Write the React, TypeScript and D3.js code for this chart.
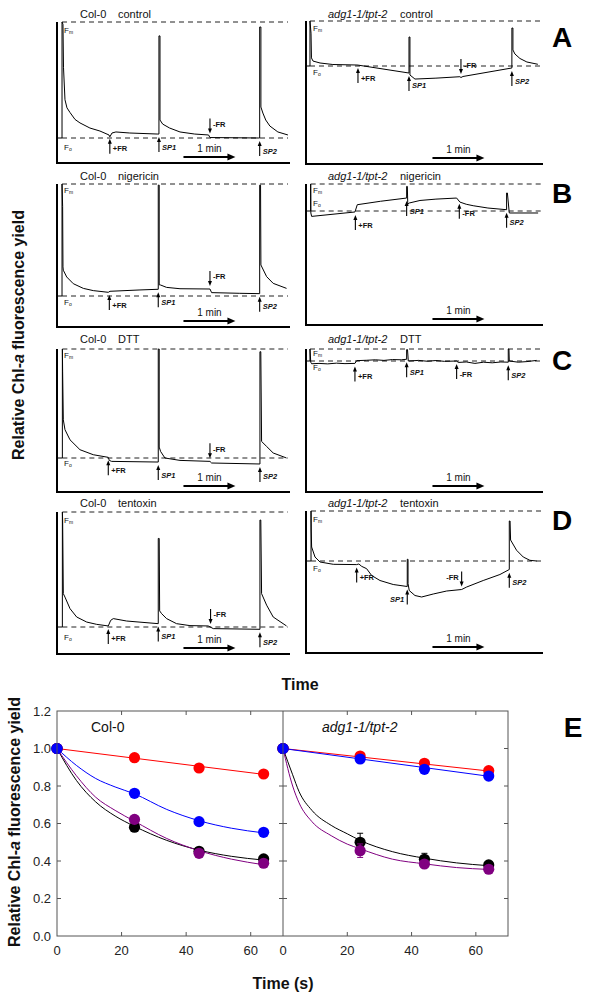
import React from 'react';
import * as d3 from 'd3';

type Pt = [number, number];
type Ev = [number, string, 'up' | 'down', 'left' | 'right'];

// ---------- Fluorescence traces (t in s, value normalised Fo=0, Fm=1) ----------
const traceColControl: Pt[] = [[0,0],[5.8,0],[5.8,1],[6.9,0.98],[7.5,0.61],[9.2,0.33],[11.5,0.26],[15,0.22],[20.8,0.16],[26.5,0.13],[38,0.086],[49.6,0.06],[60,0.026],[61,0.01],[63.5,0.043],[68,0.052],[84,0.043],[116.5,0.034],[117.7,0.034],[117.7,0.88],[118.9,0.88],[118.9,0.155],[122,0.12],[130,0.086],[142,0.052],[159,0.034],[175,0.026],[176.6,0.004],[233,0],[234,0],[234,0.957],[235.4,0.957],[235.4,0.267],[237.7,0.215],[241,0.155],[245.8,0.103],[255,0.052],[266.6,0.026]];
const traceAdgControl: Pt[] = [[0,0],[4.6,0],[4.6,1],[5.8,0.73],[6.3,0.18],[8.1,0.11],[16.2,0.067],[31,0.033],[58.8,0.022],[60,0.02],[118.9,-0.156],[118.9,0.644],[120,0.644],[120,-0.2],[125.8,-0.29],[150,-0.27],[177.7,-0.238],[178.9,-0.256],[181.2,-0.233],[237.7,-0.044],[237.7,0.844],[238.9,0.844],[238.9,0.356],[241.2,0.267],[247,0.167],[255,0.089],[267.7,0.038]];
const traceColNigericin: Pt[] = [[0,0],[5.8,0],[5.8,1],[6.5,0.8],[6.9,0.26],[7.3,0.23],[11.2,0.17],[18.8,0.11],[30.4,0.068],[41.9,0.048],[59.2,0.033],[61.2,0.042],[95.8,0.054],[116.9,0.06],[116.9,0.99],[118,0.99],[118,0.1],[119.6,0.098],[126.5,0.077],[142,0.065],[176.6,0.0625],[178.5,0.03],[211,0.024],[234,0.021],[234,0.99],[235,0.99],[235.4,0.277],[242,0.173],[249.6,0.113],[265,0.068]];
const traceAdgNigericin: Pt[] = [[0,0],[5.4,0],[5.4,1],[5.6,-0.074],[6.5,-0.2],[56.5,-0.037],[59.2,0.233],[86,0.36],[116.2,0.48],[116.2,0.91],[117,0.91],[117.5,0.25],[119.2,0.296],[131.6,0.39],[150,0.44],[173.9,0.48],[177.7,0.33],[185,0.25],[193,0.196],[210,0.11],[231.6,0.048],[231.6,0.667],[232.5,0.667],[234.7,-0.074],[268,-0.074]];
const traceColDTT: Pt[] = [[0,0],[6.2,0],[6.2,1],[6.5,0.79],[7.3,0.35],[9.2,0.26],[15,0.167],[26.5,0.076],[41.9,0.03],[59.2,0.006],[60.4,-0.022],[63.1,-0.031],[116.9,-0.037],[116.9,1],[118,1],[118,0.1],[119.6,0.06],[124.6,0],[142,-0.022],[176.6,-0.031],[178.5,-0.046],[234.3,-0.055],[234.3,0.975],[235.3,0.975],[236.2,0.152],[242,0.106],[249.6,0.046],[265,0]];
const traceAdgDTT: Pt[] = [[0,0],[4.6,0],[4.6,1],[5.5,-0.1],[6.5,-0.23],[15,-0.2],[25,-0.24],[35,-0.18],[45,-0.22],[56.5,-0.2],[58.5,0.03],[70,0.06],[80,0.1],[90,0.05],[100,0.12],[110,0.1],[116.2,0.145],[116.2,0.95],[117.2,0.95],[118.1,0],[130,0.05],[140,-0.02],[150,0.04],[160,-0.03],[173.9,0],[175.8,-0.12],[185,-0.08],[195,-0.2],[205,-0.1],[215,-0.15],[225,-0.08],[233.5,-0.1],[233.5,1.0],[234.3,1.0],[234.7,0],[245,-0.1],[255,-0.05],[266.3,0.05]];
const traceColTentoxin: Pt[] = [[0,0],[6.2,0],[6.2,1],[6.5,0.93],[7.3,0.29],[9.2,0.26],[15,0.16],[22.7,0.087],[34.3,0.043],[45.8,0.023],[59.2,0.009],[62,0.058],[65,0.073],[80.4,0.052],[116.9,0.029],[116.9,0.77],[118,0.77],[118.5,0.14],[120.8,0.116],[126.5,0.073],[138,0.029],[153.5,0.012],[174.6,0.009],[180.4,-0.014],[234.3,-0.02],[234.3,0.93],[235.3,0.93],[236.2,0.29],[242,0.19],[249.6,0.087],[265,0.009]];
const traceAdgTentoxin: Pt[] = [[0,0],[5.8,0],[5.8,1],[6,0.62],[6.5,0.28],[10.4,0.08],[16.2,-0.02],[31.5,-0.066],[58.5,-0.072],[61,-0.06],[64.3,-0.107],[70,-0.154],[75.8,-0.29],[85.4,-0.39],[100.7,-0.47],[116.9,-0.51],[116.9,0.034],[117.8,0.034],[117.8,-0.45],[119.2,-0.59],[125.8,-0.69],[133.5,-0.72],[146.9,-0.66],[162.4,-0.6],[179.7,-0.57],[185.5,-0.52],[204.6,-0.39],[223.9,-0.27],[234.7,-0.17],[234.7,0.8],[235.6,0.8],[236.2,0.42],[243.1,0.215],[250.8,0.08],[258.5,0.014],[266.3,0]];

// events: time, label, arrow direction, label side
const eventsColControl: Ev[] = [[61,'+FR','up','right'],[117.7,'SP1','up','right'],[176.6,'-FR','down','right'],[234,'SP2','up','right']];
const eventsAdgControl: Ev[] = [[60,'+FR','up','right'],[118.9,'SP1','up','right'],[178.9,'-FR','down','right'],[237.7,'SP2','up','right']];
const eventsColNigericin: Ev[] = [[60.4,'+FR','up','right'],[116.9,'SP1','up','right'],[176.6,'-FR','down','right'],[234,'SP2','up','right']];
const eventsAdgNigericin: Ev[] = [[57,'+FR','up','right'],[116.2,'SP1','up','right'],[177,'-FR','up','right'],[231.6,'SP2','up','right']];
const eventsColDTT: Ev[] = [[59.2,'+FR','up','right'],[116.9,'SP1','up','right'],[176.6,'-FR','down','right'],[234.3,'SP2','up','right']];
const eventsAdgDTT: Ev[] = [[56.5,'+FR','up','right'],[116.2,'SP1','up','right'],[173.9,'-FR','up','right'],[233.5,'SP2','up','right']];
const eventsColTentoxin: Ev[] = [[59.2,'+FR','up','right'],[116.9,'SP1','up','right'],[177.3,'-FR','down','right'],[234.3,'SP2','up','right']];
const eventsAdgTentoxin: Ev[] = [[58.5,'+FR','up','right'],[116.9,'SP1','up','left'],[179.7,'-FR','down','left'],[234.7,'SP2','up','right']];

const treatments = ['control', 'nigericin', 'DTT', 'tentoxin'];
const genotypes = ['Col-0', 'adg1-1/tpt-2'];
const panelLetters = ['A', 'B', 'C', 'D'];

// ---------- Panel E data ----------
const timesE = [0, 24, 44, 64];
const colRed = [1.0, 0.951, 0.896, 0.864];
const colBlue = [1.0, 0.761, 0.61, 0.553];
const colBlack = [1.0, 0.58, 0.452, 0.411];
const colPurple = [1.0, 0.622, 0.441, 0.388];
const colErr = [0, 0.012, 0.012, 0.01];
const adgRed = [1.0, 0.96, 0.921, 0.882];
const adgBlue = [1.0, 0.944, 0.889, 0.853];
const adgBlack = [1.0, 0.5, 0.409, 0.379];
const adgPurple = [1.0, 0.455, 0.384, 0.356];
const adgBlackErr = [0, 0.048, 0.032, 0.015];
const adgPurpleErr = [0, 0.036, 0.018, 0.012];
const adgSmallErr = [0, 0.01, 0.01, 0.01];

// fitted curves
const fitColRed: Pt[] = [[0,1],[64,0.862]];
const fitColBlue: Pt[] = [[0,1],[6,0.91],[12,0.84],[18,0.795],[24,0.758],[34,0.675],[44,0.615],[54,0.575],[64,0.55]];
const fitColBlack: Pt[] = [[0,1],[6,0.83],[12,0.715],[18,0.64],[24,0.585],[34,0.51],[44,0.458],[54,0.425],[64,0.405]];
const fitColPurple: Pt[] = [[0,1],[6,0.855],[12,0.74],[18,0.67],[24,0.612],[34,0.52],[44,0.455],[54,0.41],[64,0.38]];
const fitAdgRed: Pt[] = [[0,1],[64,0.88]];
const fitAdgBlue: Pt[] = [[0,1],[64,0.852]];
const fitAdgBlack: Pt[] = [[0,1],[3,0.86],[5,0.77],[9,0.67],[15,0.59],[20,0.545],[24,0.51],[34,0.45],[44,0.415],[54,0.39],[64,0.375]];
const fitAdgPurple: Pt[] = [[0,1],[3,0.8],[5,0.71],[9,0.61],[15,0.535],[20,0.49],[24,0.465],[34,0.41],[44,0.385],[54,0.365],[64,0.355]];

const yTicksE = [0, 0.2, 0.4, 0.6, 0.8, 1.0, 1.2];
const xTicksE = [0, 20, 40, 60];

const FONT = 'Arial, "Liberation Sans", Helvetica, sans-serif';

// ---------- layout for trace panels ----------
const traceLayout = [
  { trace: traceColControl, events: eventsColControl, col: 0, row: 0, fm: 22, fo: 138, bottom: 163, titleY: 14, fmLab: 30, foLab: 147 },
  { trace: traceAdgControl, events: eventsAdgControl, col: 1, row: 0, fm: 21, fo: 66, bottom: 164, titleY: 14, fmLab: 28, foLab: 72 },
  { trace: traceColNigericin, events: eventsColNigericin, col: 0, row: 1, fm: 184, fo: 296, bottom: 327, titleY: 176, fmLab: 190, foLab: 302 },
  { trace: traceAdgNigericin, events: eventsAdgNigericin, col: 1, row: 1, fm: 184, fo: 211, bottom: 325, titleY: 176, fmLab: 190, foLab: 203 },
  { trace: traceColDTT, events: eventsColDTT, col: 0, row: 2, fm: 349, fo: 458, bottom: 492, titleY: 339, fmLab: 355, foLab: 463 },
  { trace: traceAdgDTT, events: eventsAdgDTT, col: 1, row: 2, fm: 349, fo: 361, bottom: 492, titleY: 339, fmLab: 353, foLab: 367 },
  { trace: traceColTentoxin, events: eventsColTentoxin, col: 0, row: 3, fm: 512, fo: 627, bottom: 654, titleY: 503, fmLab: 520, foLab: 637 },
  { trace: traceAdgTentoxin, events: eventsAdgTentoxin, col: 1, row: 3, fm: 511, fo: 561, bottom: 653, titleY: 503, fmLab: 519, foLab: 568 },
];
const letterY = [37, 193, 360, 520];

function interp(tr: Pt[], t: number) {
  for (let i = 0; i < tr.length - 1; i++) {
    const a = tr[i], b = tr[i + 1];
    if (t >= a[0] && t <= b[0]) {
      if (b[0] === a[0]) return a[1];
      return a[1] + (b[1] - a[1]) * (t - a[0]) / (b[0] - a[0]);
    }
  }
  return tr[tr.length - 1][1];
}

function FLabel({ x, y, sub }: { x: number; y: number; sub: string }) {
  return (
    <text x={x} y={y} fontFamily={FONT} fontSize={8} dominantBaseline="central" fill="#111">
      F<tspan fontSize={5} dy={2}>{sub}</tspan>
    </text>
  );
}

function TracePanel({ p }: { p: typeof traceLayout[number] }) {
  const axisX = p.col === 0 ? 57 : 306;
  const xEnd = p.col === 0 ? 290 : 543;
  const x = d3.scaleLinear().domain([0, 269]).range([axisX, axisX + 233]);
  const y = d3.scaleLinear().domain([0, 1]).range([p.fo, p.fm]);
  const line = d3.line<Pt>().x(d => x(d[0])).y(d => y(d[1]));
  const pulseX = x(p.trace[1][0]);
  const arrowY = p.bottom - 6;
  const a0 = x(146), a1 = x(206);
  return (
    <g>
      {/* title */}
      {p.col === 0 ? (
        <text y={p.titleY} fontFamily={FONT} fontSize={11} dominantBaseline="central" fill="#111">
          <tspan x={80}>{genotypes[0]}</tspan>
          <tspan x={118}>{treatments[p.row]}</tspan>
        </text>
      ) : (
        <text y={p.titleY} fontFamily={FONT} fontSize={11} dominantBaseline="central" fill="#111">
          <tspan x={328} fontStyle="italic">{genotypes[1]}</tspan>
          <tspan x={400}>{treatments[p.row]}</tspan>
        </text>
      )}
      {/* dashed Fm / Fo */}
      <line x1={pulseX} x2={xEnd - 2} y1={p.fm} y2={p.fm} stroke="#222" strokeWidth={1} strokeDasharray="5,4" />
      <line x1={pulseX} x2={xEnd - 2} y1={p.fo} y2={p.fo} stroke="#222" strokeWidth={1} strokeDasharray="5,4" />
      {/* axes */}
      <line x1={axisX} x2={axisX} y1={p.fm} y2={p.bottom + 1} stroke="#000" strokeWidth={2} />
      <line x1={axisX - 1} x2={xEnd} y1={p.bottom} y2={p.bottom} stroke="#000" strokeWidth={2} />
      {/* trace */}
      <path d={line(p.trace) || ''} fill="none" stroke="#000" strokeWidth={1} strokeLinejoin="round" />
      <FLabel x={axisX + 7} y={p.fmLab} sub="m" />
      <FLabel x={axisX + 7} y={p.foLab} sub="o" />
      {/* events */}
      {p.events.map(([t, lab, dir, side], i) => {
        const ex = x(t);
        const base = y(interp(p.trace, t - 0.6));
        const tip = dir === 'up' ? base + 3 : base - 3;
        const tail = dir === 'up' ? tip + 15 : tip - 15;
        const head = dir === 'up' ? `M${ex},${tip} L${ex - 2},${tip + 5} L${ex + 2},${tip + 5} Z` : `M${ex},${tip} L${ex - 2},${tip - 5} L${ex + 2},${tip - 5} Z`;
        const ly = dir === 'up' ? tip + 10 : tail + 6;
        const isSP = lab.startsWith('SP');
        return (
          <g key={i}>
            <line x1={ex} x2={ex} y1={tail} y2={tip + (dir === 'up' ? 3 : -3)} stroke="#000" strokeWidth={1.1} />
            <path d={head} fill="#000" />
            <text x={side === 'right' ? ex + 3 : ex - 3} y={ly} textAnchor={side === 'right' ? 'start' : 'end'} dominantBaseline="central"
              fontFamily={FONT} fontSize={7.5} fontWeight="bold" fontStyle={isSP ? 'italic' : 'normal'} fill="#111">{lab}</text>
          </g>
        );
      })}
      {/* 1 min arrow */}
      <line x1={a0} x2={a1 - 6} y1={arrowY} y2={arrowY} stroke="#000" strokeWidth={2} />
      <path d={`M${a1},${arrowY} L${a1 - 8},${arrowY - 3.5} L${a1 - 8},${arrowY + 3.5} Z`} fill="#000" />
      <text x={(a0 + a1) / 2} y={arrowY - 9} textAnchor="middle" dominantBaseline="central" fontFamily={FONT} fontSize={10} fill="#111">1 min</text>
    </g>
  );
}

function PanelE() {
  const top = 711, bottom = 936;
  const y = d3.scaleLinear().domain([0, 1.2]).range([bottom, top]);
  const panes = [
    { x: d3.scaleLinear().domain([0, 70]).range([57, 283]), red: colRed, blue: colBlue, black: colBlack, purple: colPurple,
      errBlack: colErr, errPurple: colErr, errRed: colErr, errBlue: colErr,
      fits: [fitColRed, fitColBlue, fitColBlack, fitColPurple], label: 'Col-0', italic: false, lx: 91 },
    { x: d3.scaleLinear().domain([0, 70]).range([283, 508]), red: adgRed, blue: adgBlue, black: adgBlack, purple: adgPurple,
      errBlack: adgBlackErr, errPurple: adgPurpleErr, errRed: adgSmallErr, errBlue: adgSmallErr,
      fits: [fitAdgRed, fitAdgBlue, fitAdgBlack, fitAdgPurple], label: 'adg1-1/tpt-2', italic: true, lx: 322 },
  ];
  const fitColors = ['#ff0000', '#0000ff', '#000000', '#800080'];
  return (
    <g>
      {panes.map((pn, pi) => {
        const [x0, x1] = pn.x.range();
        const line = d3.line<Pt>().x(d => pn.x(d[0])).y(d => y(d[1])).curve(d3.curveMonotoneX);
        const series = [
          { v: pn.red, e: pn.errRed, c: '#ff0000' },
          { v: pn.black, e: pn.errBlack, c: '#000000' },
          { v: pn.purple, e: pn.errPurple, c: '#800080' },
          { v: pn.blue, e: pn.errBlue, c: '#0000ff' },
        ];
        return (
          <g key={pi}>
            {/* ticks */}
            {yTicksE.slice(1, -1).map(t => (
              <g key={t}>
                <line x1={x0} x2={x0 + 4} y1={y(t)} y2={y(t)} stroke="#555" />
                <line x1={x1} x2={x1 - 4} y1={y(t)} y2={y(t)} stroke="#555" />
              </g>
            ))}
            {xTicksE.slice(1).map(t => (
              <g key={t}>
                <line x1={pn.x(t)} x2={pn.x(t)} y1={bottom} y2={bottom - 4} stroke="#555" />
                <line x1={pn.x(t)} x2={pn.x(t)} y1={top} y2={top + 4} stroke="#555" />
              </g>
            ))}
            {xTicksE.map(t => (
              <text key={t} x={pn.x(t)} y={950} textAnchor="middle" dominantBaseline="central" fontFamily={FONT} fontSize={13} fill="#222">{t}</text>
            ))}
            {/* fits */}
            {pn.fits.map((f, i) => (
              <path key={i} d={line(f) || ''} fill="none" stroke={fitColors[i]} strokeWidth={1} />
            ))}
            {/* points */}
            {series.map((s, si) => (
              <g key={si}>
                {s.v.map((v, i) => s.e[i] > 0 ? (
                  <g key={'e' + i}>
                    <line x1={pn.x(timesE[i])} x2={pn.x(timesE[i])} y1={y(v - s.e[i])} y2={y(v + s.e[i])} stroke={s.c} strokeWidth={1} />
                    <line x1={pn.x(timesE[i]) - 3} x2={pn.x(timesE[i]) + 3} y1={y(v - s.e[i])} y2={y(v - s.e[i])} stroke={s.c} strokeWidth={1} />
                    <line x1={pn.x(timesE[i]) - 3} x2={pn.x(timesE[i]) + 3} y1={y(v + s.e[i])} y2={y(v + s.e[i])} stroke={s.c} strokeWidth={1} />
                  </g>
                ) : null)}
                {s.v.map((v, i) => (
                  <circle key={i} cx={pn.x(timesE[i])} cy={y(v)} r={5.6} fill={s.c} />
                ))}
              </g>
            ))}
            <text x={pn.lx} y={727} dominantBaseline="central" fontFamily={FONT} fontSize={14} fontStyle={pn.italic ? 'italic' : 'normal'} fill="#111">{pn.label}</text>
          </g>
        );
      })}
      {/* frame */}
      <rect x={57} y={top} width={451} height={bottom - top} fill="none" stroke="#555" strokeWidth={1} />
      <line x1={283} x2={283} y1={top} y2={bottom} stroke="#555" strokeWidth={1} />
      {yTicksE.map(t => (
        <text key={t} x={51} y={y(t)} textAnchor="end" dominantBaseline="central" fontFamily={FONT} fontSize={13} fill="#222">{t.toFixed(1)}</text>
      ))}
      <text x={283} y={983} textAnchor="middle" dominantBaseline="central" fontFamily={FONT} fontSize={16} fontWeight="bold" fill="#111">Time (s)</text>
      <text transform="translate(14,822) rotate(-90)" textAnchor="middle" dominantBaseline="central" fontFamily={FONT} fontSize={16} fontWeight="bold" fill="#111">
        Relative Chl-<tspan fontStyle="italic">a</tspan> fluorescence yield
      </text>
      <text x={573} y={727} textAnchor="middle" dominantBaseline="central" fontFamily={FONT} fontSize={28} fontWeight="bold" fill="#000">E</text>
    </g>
  );
}

export default function App() {
  return (
    <svg width={600} height={1003} style={{ position: 'absolute', left: 0, top: 0, background: '#fff' }}>
      <rect width={600} height={1003} fill="#fff" />
      {traceLayout.map((p, i) => <TracePanel key={i} p={p} />)}
      {panelLetters.map((l, i) => (
        <text key={l} x={562} y={letterY[i]} textAnchor="middle" dominantBaseline="central" fontFamily={FONT} fontSize={28} fontWeight="bold" fill="#000">{l}</text>
      ))}
      <text x={300} y={684} textAnchor="middle" dominantBaseline="central" fontFamily={FONT} fontSize={16} fontWeight="bold" fill="#111">Time</text>
      <text transform="translate(18,335) rotate(-90)" textAnchor="middle" dominantBaseline="central" fontFamily={FONT} fontSize={16} fontWeight="bold" fill="#111">
        Relative Chl-<tspan fontStyle="italic">a</tspan> fluorescence yield
      </text>
      <PanelE />
    </svg>
  );
}
